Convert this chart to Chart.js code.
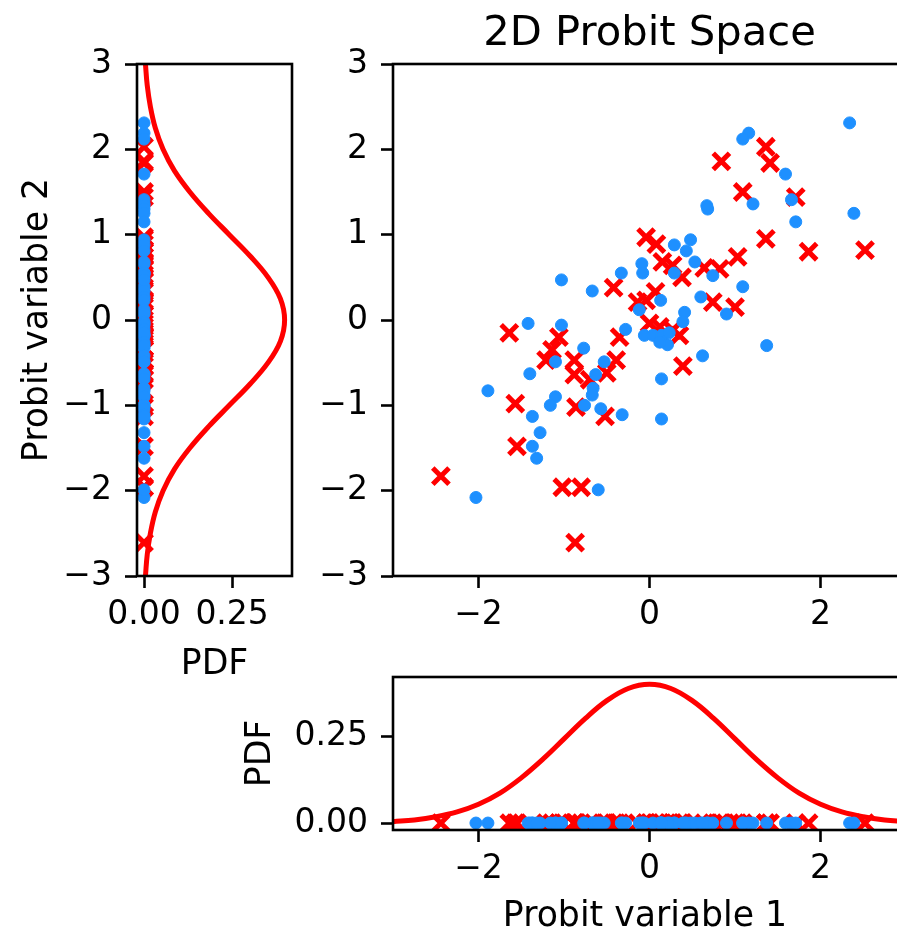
<!DOCTYPE html>
<html lang="en">
<head>
<meta charset="UTF-8">
<title>2D Probit Space</title>
<script src="https://cdn.jsdelivr.net/npm/chart.js"></script>
<style>
  html, body { margin: 0; padding: 0; background: #fff; overflow: hidden; }
  #wrap { position: relative; width: 897px; height: 935px; }
  #wrap canvas { position: absolute; left: 0; top: 0; }
</style>
</head>
<body>
<div id="wrap">
  <canvas id="side" width="897" height="935"></canvas>
  <canvas id="bottom" width="897" height="935"></canvas>
  <canvas id="main" width="897" height="935"></canvas>
</div>
<script>
// blue class (dots)
const blueX = [2.34, 1.16, 1.09, 1.59, 1.66, 1.21, 0.67, 0.68, 2.39, 1.71,
               0.48, 0.29, 0.43, -0.09, -0.08, -0.33, 0.53, 0.29, 0.74, 1.09,
               -0.67, -1.03, 0.60, 0.13, -0.12, 0.41, 0.90, 0.39, -1.42, -1.03,
               -0.28, -0.06, 0.04, 0.14, 0.23, 0.21, 0.12, -0.77, 1.37, 0.62,
               -1.10, -0.53, -1.40, -0.63, 0.14, -0.66, -0.67, -1.89, -1.10, -1.16,
               -0.76, -0.57, -0.32, 0.14, -1.37, -1.28, -1.37, -1.32, -2.03, -0.60];
const blueY = [2.31, 2.19, 2.12, 1.71, 1.41, 1.36, 1.34, 1.30, 1.25, 1.15,
               0.94, 0.88, 0.81, 0.66, 0.55, 0.55, 0.68, 0.55, 0.52, 0.39,
               0.34, 0.47, 0.27, 0.23, 0.12, 0.09, 0.07, -0.02, -0.04, -0.06,
               -0.11, -0.18, -0.18, -0.18, -0.15, -0.29, -0.26, -0.33, -0.30, -0.42,
               -0.49, -0.49, -0.63, -0.64, -0.69, -0.80, -0.88, -0.83, -0.90, -1.00,
               -1.00, -1.04, -1.11, -1.16, -1.13, -1.32, -1.48, -1.62, -2.08, -1.99];

// red class (crosses)
const redX = [1.36, 0.84, 1.41, 1.09, 1.71, 1.36, 1.86, 2.52, -0.04, 0.08,
              0.15, 0.27, 0.64, 0.82, 1.03, 0.38, -0.42, 0.07, -0.04, -0.14,
              0.74, 1.00, -1.64, -1.06, -0.35, 0.00, 0.12, 0.27, 0.35, -1.14,
              -1.21, -0.88, -0.88, -0.39, -0.50, -0.70, 0.39, -1.57, -0.86, -0.52,
              -1.55, -2.44, -1.02, -0.80, -0.87];
const redY = [2.03, 1.86, 1.84, 1.50, 1.44, 0.95, 0.80, 0.82, 0.97, 0.89,
              0.68, 0.64, 0.61, 0.60, 0.74, 0.50, 0.38, 0.33, 0.23, 0.21,
              0.21, 0.15, -0.15, -0.20, -0.20, -0.04, -0.08, -0.12, -0.18, -0.35,
              -0.47, -0.47, -0.64, -0.47, -0.62, -0.70, -0.54, -0.98, -1.02, -1.13,
              -1.48, -1.83, -1.96, -1.96, -2.61];

// density curve
const pdfGrid = [-3, -2.75, -2.5, -2.25, -2, -1.75, -1.5, -1.25, -1, -0.75, -0.5, -0.25, 0,
                 0.25, 0.5, 0.75, 1, 1.25, 1.5, 1.75, 2, 2.25, 2.5, 2.75, 3];
const pdfVals = [0.004, 0.009, 0.018, 0.032, 0.054, 0.086, 0.130, 0.183, 0.242, 0.301, 0.352, 0.387, 0.399,
                 0.387, 0.352, 0.301, 0.242, 0.183, 0.130, 0.086, 0.054, 0.032, 0.018, 0.009, 0.004];

const probitTicksX = [-2, 0, 2];
const probitTicksY = [-3, -2, -1, 0, 1, 2, 3];
const pdfTicks = [0, 0.25];

// the figure is cut at the right: the axes run to 3 but only ~2.89 is visible
const X_MIN = -3, X_FULL_MAX = 3, X_VISIBLE_MAX = 2.894;

const FONT = 'DejaVu Sans';
const BLUE = '#1e90ff';
const RED = '#ff0000';
const tickFont = { family: FONT, size: 33 };
const labelFont = { family: FONT, size: 34.7 };

const zip = (xs, ys) => xs.map((x, i) => ({ x: x, y: ys[i] }));
const fmtNum = v => (v < 0 ? '\u2212' + Math.abs(v) : String(v));
const fmtPdf = v => Number(v).toFixed(2);

// box round the plot area, like matplotlib spines (right side may lie off the page)
const frame = {
  id: 'frame',
  afterDraw(chart, args, opts) {
    const { ctx, chartArea: a } = chart;
    const right = opts.fullMax !== undefined ? chart.scales.x.getPixelForValue(opts.fullMax) : a.right;
    ctx.save();
    ctx.strokeStyle = '#000';
    ctx.lineWidth = 2.6;
    ctx.strokeRect(a.left, a.top, right - a.left, a.bottom - a.top);
    ctx.restore();
  }
};

// title centred over the whole axes, including the part cut off the page
const axesTitle = {
  id: 'axesTitle',
  afterDraw(chart, args, opts) {
    const { ctx } = chart;
    const x = chart.scales.x;
    const cx = (x.getPixelForValue(opts.from) + x.getPixelForValue(opts.to)) / 2;
    ctx.save();
    ctx.fillStyle = '#000';
    ctx.font = opts.size + 'px "' + FONT + '"';
    ctx.textAlign = 'center';
    ctx.textBaseline = 'alphabetic';
    ctx.fillText(opts.text, cx, opts.baseline);
    ctx.restore();
  }
};

function axis(min, max, ticks, fmt, size, horizontal, title) {
  return {
    type: 'linear', min: min, max: max,
    afterBuildTicks: s => { s.ticks = ticks.map(v => ({ value: v })); },
    afterFit: s => {
      if (horizontal) s.height = size; else s.width = size;
      s.paddingLeft = s.paddingRight = s.paddingTop = s.paddingBottom = 0;
    },
    ticks: { callback: fmt, font: tickFont, color: '#000', padding: horizontal ? 8 : 13,
             maxRotation: 0, autoSkip: false },
    grid: { display: true, drawOnChartArea: false, drawTicks: true,
            tickLength: 12, tickWidth: 2.6, tickColor: '#000' },
    border: { display: false },
    title: title || { display: false }
  };
}

function dots(data) {
  return { data: data, pointStyle: 'circle', pointRadius: 6, borderWidth: 1,
           backgroundColor: BLUE, borderColor: BLUE, showLine: false };
}
function crosses(data) {
  return { data: data, pointStyle: 'crossRot', pointRadius: 11.5, borderWidth: 5,
           backgroundColor: RED, borderColor: RED, showLine: false };
}
function curve(data) {
  return { data: data, showLine: true, pointRadius: 0, borderColor: RED, borderWidth: 5,
           tension: 0.4, fill: false };
}

const noUi = { legend: { display: false }, tooltip: { enabled: false } };
const common = { responsive: false, animation: false, devicePixelRatio: 1, events: [] };
// marker size must not push the plot area in
const layout = padding => ({ autoPadding: false, padding: padding });

// main scatter
new Chart(document.getElementById('main'), {
  type: 'scatter',
  data: { datasets: [dots(zip(blueX, blueY)), crosses(zip(redX, redY))] },
  options: Object.assign({}, common, {
    layout: layout({ left: 303, top: 64, right: 0, bottom: 299 }),
    plugins: Object.assign({}, noUi, {
      frame: { fullMax: X_FULL_MAX },
      axesTitle: { text: '2D Probit Space', size: 41.7, baseline: 45, from: X_MIN, to: X_FULL_MAX }
    }),
    scales: {
      x: axis(X_MIN, X_VISIBLE_MAX, probitTicksX, fmtNum, 60, true),
      y: axis(-3, 3, probitTicksY, fmtNum, 90, false)
    }
  }),
  plugins: [frame, axesTitle]
});

// left marginal: density of variable 2
new Chart(document.getElementById('side'), {
  type: 'scatter',
  data: { datasets: [
    dots(blueY.map(v => ({ x: 0, y: v }))),
    crosses(redY.map(v => ({ x: 0, y: v }))),
    curve(zip(pdfVals, pdfGrid))
  ] },
  options: Object.assign({}, common, {
    layout: layout({ left: 0, top: 64, right: 605, bottom: 249 }),
    plugins: Object.assign({}, noUi, { frame: {} }),
    scales: {
      x: axis(-0.02, 0.42, pdfTicks, fmtPdf, 110, true,
              { display: true, text: 'PDF', color: '#000', font: labelFont, padding: { top: 0, bottom: 0 } }),
      y: axis(-3, 3, probitTicksY, fmtNum, 137, false,
              { display: true, text: 'Probit variable 2', color: '#000', font: labelFont, padding: { top: 17, bottom: 0 } })
    }
  }),
  plugins: [frame]
});

// bottom marginal: density of variable 1
new Chart(document.getElementById('bottom'), {
  type: 'scatter',
  data: { datasets: [
    dots(blueX.map(v => ({ x: v, y: 0 }))),
    crosses(redX.map(v => ({ x: v, y: 0 }))),
    curve(zip(pdfGrid, pdfVals))
  ] },
  options: Object.assign({}, common, {
    layout: layout({ left: 240, top: 677, right: 0, bottom: 0 }),
    plugins: Object.assign({}, noUi, { frame: { fullMax: X_FULL_MAX } }),
    scales: {
      x: axis(X_MIN, X_VISIBLE_MAX, probitTicksX, fmtNum, 105, true,
              { display: true, text: 'Probit variable 1', color: '#000', font: labelFont, padding: { top: 0, bottom: -3 } }),
      y: axis(-0.02, 0.42, pdfTicks, fmtPdf, 153, false,
              { display: true, text: 'PDF', color: '#000', font: labelFont, padding: { top: 0, bottom: 0 } })
    }
  }),
  plugins: [frame]
});
</script>
</body>
</html>
